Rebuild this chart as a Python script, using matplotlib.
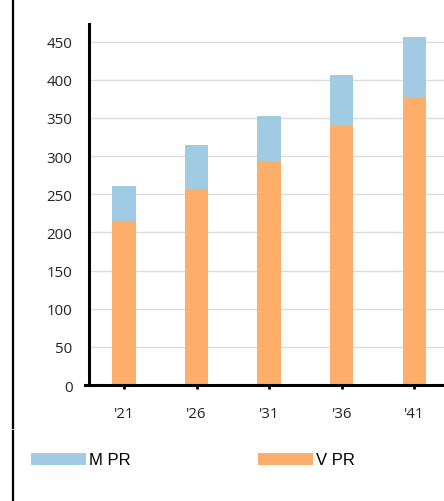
import matplotlib.pyplot as plt
from matplotlib.lines import Line2D

years = ["'21", "'26", "'31", "'36", "'41"]
v_pr = [215, 257, 294, 339, 378]
m_pr = [46, 58, 59, 67, 78]
y_ticks = [0, 50, 100, 150, 200, 250, 300, 350, 400, 450]

blue = "#a0cbe2"
orange = "#fdae6b"

fig = plt.figure(figsize=(4.44, 5.02), dpi=100)
ax = fig.add_axes([0.201, 0.231, 0.799, 0.719])

x = list(range(len(years)))
ax.bar(x, v_pr, width=0.32, color=orange, label="V PR", zorder=2)
ax.bar(x, m_pr, width=0.32, bottom=v_pr, color=blue, label="M PR", zorder=2)

ax.set_xlim(-0.478, 4.41)
ax.set_ylim(0, 473)
ax.set_yticks(y_ticks)
ax.set_xticks(x)
ax.set_xticklabels(years)
ax.grid(axis="y", color="#dcdcdc", linewidth=1.0, zorder=0)

for s in ["top", "right"]:
    ax.spines[s].set_visible(False)
ax.spines["left"].set_linewidth(2.2)
ax.spines["bottom"].set_linewidth(2.2)
ax.spines["bottom"].set_bounds(-0.53, 4.41)

ax.tick_params(axis="y", length=0, pad=12, labelsize=10.8, labelcolor="#222222")
ax.tick_params(axis="x", direction="inout", length=6, width=2, pad=12,
               labelsize=10.8, labelcolor="#222222")
for lab in ax.get_xticklabels() + ax.get_yticklabels():
    lab.set_family("Open Sans")

# left border line with a small gap
fig.add_artist(Line2D([13 / 444, 13 / 444], [1, (502 - 429) / 502],
                      color="black", linewidth=1.6))
fig.add_artist(Line2D([13 / 444, 13 / 444], [(502 - 432) / 502, 0],
                      color="black", linewidth=1.6))

h, l = ax.get_legend_handles_labels()
leg = fig.legend(h[::-1], l[::-1], loc="center left", ncol=2,
                 bbox_to_anchor=(31 / 444, 1 - 461 / 502),
                 frameon=False, handlelength=3.3, handleheight=0.7,
                 handletextpad=0.2, columnspacing=7.6, borderpad=0, borderaxespad=0,
                 prop={"family": "Liberation Sans", "size": 12})

fig.savefig("out.png", dpi=100)
